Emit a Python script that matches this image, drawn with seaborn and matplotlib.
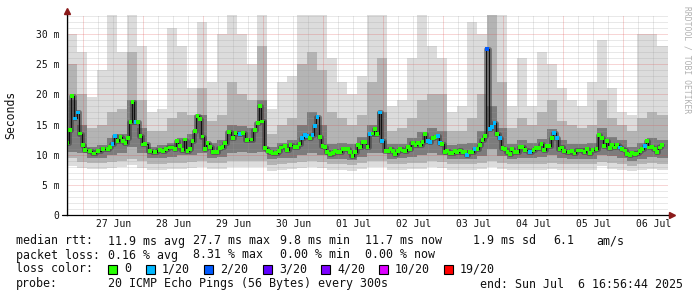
import numpy as np
import pandas as pd
import matplotlib
matplotlib.use("Agg")
import matplotlib.pyplot as plt
from matplotlib.patches import Rectangle
import seaborn as sns

# ---------------- data ----------------
# hours since chart start (26 Jun 17:30)
median_h = [0.1,1.2,2.1,3.3,4.3,5.3,6.4,7.2,9.2,10.9,12.5,14.5,16.5,17.2,18.2,19.2,20.2,21.4,22.5,23.4,
            24.5,25.4,26.2,27.6,28.4,29.4,30.5,31.3,33.1,35.1,37.1,38.5,39.5,41.1,42.2,43.1,44.0,45.1,46.2,47.2,
            48.2,49.2,50.2,51.2,52.2,53.2,54.2,55.2,56.2,57.2,58.4,60.0,61.1,62.2,63.2,64.8,66.4,67.4,69.1,70.4,
            72.0,73.8,75.1,76.3,77.2,78.1,79.3,80.4,81.5,82.5,83.7,84.8,85.7,87.1,88.1,89.4,91.0,92.1,93.0,94.1,
            95.3,96.1,97.2,98.2,99.2,100.2,101.1,102.2,103.3,104.1,105.3,106.3,107.3,108.3,109.3,110.3,111.4,112.3,113.3,114.2,
            115.3,116.3,117.3,118.3,119.3,120.2,121.1,122.2,123.1,124.1,125.1,125.9,127.4,128.5,129.4,130.3,131.3,132.3,133.3,134.3,
            135.3,136.3,137.2,138.3,139.4,140.3,141.4,142.2,143.1,144.3,145.2,146.3,147.4,148.4,149.1,150.1,151.1,152.1,153.2,154.1,
            155.2,156.1,157.2,158.2,159.2,160.0,161.0,162.0,163.2,164.2,165.2,166.2,167.2,168.0,169.2,170.1,171.0,172.1,173.2,174.2,
            175.3,176.2,177.2,178.1,179.0,180.0,181.3,182.2,183.3,185.2,186.6,187.6,188.8,189.8,190.9,191.9,193.0,193.9,194.9,195.9,
            197.0,198.1,198.9,200.6,201.9,203.0,204.2,205.6,207.0,208.0,209.1,210.2,211.8,212.8,213.9,214.9,216.0,217.1,218.1,219.1,
            220.1,221.2,222.1,223.1,224.1,225.2,226.1,227.2,228.1,229.2,230.1,231.1,232.0,232.9,234.0,235.1,235.9,237.1,238.0]
median_ms = [12.0,14.1,19.7,16.0,17.0,13.5,11.6,10.8,10.6,10.2,10.6,10.9,10.9,11.3,11.8,13.1,12.2,12.9,12.3,11.9,
             12.8,15.4,18.7,15.4,15.4,13.1,11.7,11.8,10.6,10.5,10.8,10.6,10.9,11.2,11.2,10.9,12.2,11.4,10.8,12.5,
             10.6,11.0,12.2,13.9,16.4,15.9,13.0,11.0,12.0,11.3,10.5,10.5,11.1,11.3,11.9,13.8,12.7,13.6,13.4,13.6,
             12.4,12.5,14.1,15.2,18.1,15.5,11.1,10.6,10.4,10.2,10.3,10.6,11.2,11.5,10.8,11.6,11.3,11.3,11.8,12.7,
             13.2,13.1,12.7,13.3,14.8,16.3,12.9,11.4,11.3,10.5,10.1,10.3,10.6,10.5,10.5,11.0,10.9,10.9,10.5,9.8,
             10.4,11.6,11.3,12.1,12.1,11.3,13.4,13.5,14.3,13.4,17.0,12.3,10.6,10.6,11.0,10.6,10.1,10.6,10.9,10.7,
             10.6,11.3,11.0,12.0,11.6,12.0,11.6,12.1,13.4,12.2,12.1,12.8,12.9,13.1,12.0,11.8,10.5,10.6,10.3,10.3,
             10.6,10.5,10.7,10.5,10.5,10.0,10.5,10.4,10.9,10.9,11.6,12.4,13.1,27.5,14.2,14.6,15.3,13.4,12.7,11.1,
             10.9,10.5,10.1,10.9,10.5,10.5,11.3,11.3,10.8,10.4,10.8,11.1,11.1,11.8,10.8,11.4,11.4,12.7,13.6,12.7,
             10.9,11.2,10.6,10.5,10.6,10.2,10.7,10.7,10.4,10.9,10.3,10.8,10.9,13.3,12.7,11.5,12.2,11.1,11.6,11.2,
             11.6,11.2,11.0,10.7,10.1,9.9,10.3,10.1,10.2,10.6,11.0,11.4,12.2,11.2,11.3,10.9,10.5,11.2,11.6]
loss1_hours = [3.3,4.3,18.2,19.2,27.6,69.1,94.1,95.3,96.1,98.2,99.2,100.2,121.1,125.1,125.9,144.3,145.2,
               148.4,149.1,160.0,163.2,169.2,170.1,171.0,173.2,185.2,194.9,195.9,221.2,231.1]
loss2_hours = [168.0]

# smoke (ping distribution), 4-hour columns starting at hour 0
smoke_h = list(range(0, 240, 4))
smoke_max = [30,27,19.5,24,33.2,27,33.2,28,17,17.5,31,28,21,32,22,30,33.2,30,25,33.2,
             17.5,22,23,33.2,33.2,33.2,26,22,20,23,33.2,33.2,18,19,26,33.2,28,26,17,18,
             32,30,33.2,33.2,18,26,18,27,25,21,19,18,22,29,21,17,16.5,30,30,28]
smoke_p90 = [25,20,14.5,15,17,17.5,27,19,14,14,16,17,16.5,21,15.5,16.5,22,20,19,28,
             13.5,15,16,25,27,24,17,16,15,16.5,22,26,14,14.5,16,19,20,20,14,14,
             16,20,33.2,22,14.5,16,15,17,19,15.5,15,14.5,15,19,16,15,14,16,17,16.5]
smoke_q3 = [19,15,11.3,11.6,12.8,13.5,19,14.5,11.3,11.6,12,12.8,13.5,16.5,12,12.5,15,14.8,14.5,19,
            11.2,12,12.4,15,17,15,11.8,12,11.7,13,15,17,11.8,11.8,12.8,13.8,14.5,14,11.6,11.8,
            12,14,18,14.5,11.8,12.5,12,12.6,14.2,12.5,11.8,11.8,12,14.5,13,12.4,11.3,12,12.8,12.5]
smoke_q1 = [10.5,10.3,9.4,9.5,10,10.3,11.3,10.3,9.4,9.4,9.6,9.9,10,10.3,9.5,9.6,10.3,10.5,10.3,10.5,
            9.2,9.4,9.5,10,10.3,10,9.2,9.3,9.1,9.6,10.2,10.3,9.3,9.4,9.6,9.9,10.2,10,9.2,9.3,
            9.3,9.8,11,9.7,9.3,9.5,9.4,9.6,10,9.5,9.2,9.2,9.3,10,9.7,9.5,9,9.3,9.6,9.5]
smoke_p10 = [9.5,8.8,8.6,8.6,8.8,8.9,9.3,8.9,8.5,8.5,8.6,8.7,8.8,8.9,8.6,8.6,8.9,9,8.9,9,
             8.3,8.5,8.6,8.8,8.9,8.8,8.4,8.4,8.3,8.6,8.9,8.9,8.4,8.5,8.6,8.7,8.9,8.8,8.4,8.4,
             8.4,8.7,9,8.7,8.4,8.5,8.4,8.5,8.7,8.5,8.4,8.4,8.4,8.8,8.6,8.5,8.2,8.4,8.6,8.5]
smoke_min = [8.2,7.8,7.6,7.6,7.8,7.9,8.3,7.8,7.5,7.5,7.6,7.7,7.8,7.9,7.6,7.6,7.9,8,7.9,8,
             7.3,7.5,7.6,7.8,7.9,7.8,7.4,7.4,7.3,7.6,7.9,7.9,7.4,7.5,7.6,7.7,7.9,7.8,7.4,7.4,
             7.4,7.7,8,7.7,7.4,7.5,7.4,7.5,7.7,7.5,7.4,7.4,7.4,8.2,7.6,7.5,7.3,7.4,7.6,7.5]

day_labels = ["27 Jun", "28 Jun", "29 Jun", "30 Jun", "01 Jul", "02 Jul", "03 Jul", "04 Jul", "05 Jul", "06 Jul"]
first_midnight_h = 6.5      # 27 Jun 00:00 in chart hours
x_end_h = 240.4
y_top = 33.15
ytick_vals = [0, 5, 10, 15, 20, 25, 30]
ytick_labels = ["0", "5 m", "10 m", "15 m", "20 m", "25 m", "30 m"]

loss_colors = {0: "#26ff00", 1: "#00b8ff", 2: "#0059ff", 3: "#5e00ff", 4: "#7e00ff", 10: "#dd00ff", 19: "#ff0000"}
legend_loss = [(0, "0"), (1, "1/20"), (2, "2/20"), (3, "3/20"), (4, "4/20"), (10, "10/20"), (19, "19/20")]

# ---------------- figure ----------------
sns.set_style("white")
plt.rcParams['font.family'] = ['DejaVu Sans Mono', 'DejaVu Sans']
W, H = 697, 297
fig = plt.figure(figsize=(W / 100, H / 100), dpi=100)
ax = fig.add_axes([67 / W, (H - 215) / H, 601 / W, 200 / H])
ax.set_xlim(0, x_end_h)
ax.set_ylim(0, y_top)

# smoke layers
xs = np.append(np.array(smoke_h, float), x_end_h)
def ext(a):
    a = np.array(a, float)
    return np.append(a, a[-1])
ax.fill_between(xs, ext(smoke_min), ext(smoke_max), step="post", color="#dcdcdc", lw=0, zorder=1)
ax.fill_between(xs, ext(smoke_p10), ext(smoke_p90), step="post", color="#b4b4b4", lw=0, zorder=2)
ax.fill_between(xs, ext(smoke_q1), ext(smoke_q3), step="post", color="#7c7c7c", lw=0, zorder=3)

# grid
px = 0.72
for v in np.arange(1, 34):
    if v % 5 == 0:
        ax.axhline(v, color="#e04848", alpha=0.45, lw=px, ls=(0, (1, 1)), zorder=4)
    else:
        ax.axhline(v, color="#9a9a9a", alpha=0.45, lw=px, ls=(0, (1, 1)), zorder=4)
for h in np.arange(0.5, x_end_h, 6):
    if abs(((h - first_midnight_h) / 24) - round((h - first_midnight_h) / 24)) < 1e-6:
        ax.axvline(h, color="#e04848", alpha=0.45, lw=px, ls=(0, (1, 1)), zorder=4)
    else:
        ax.axvline(h, color="#9a9a9a", alpha=0.45, lw=px, ls=(0, (1, 1)), zorder=4)

# median
df = pd.DataFrame({"hour": median_h, "ms": median_ms})
df["loss"] = 0
df.loc[df["hour"].isin(loss1_hours), "loss"] = 1
df.loc[df["hour"].isin(loss2_hours), "loss"] = 2
sns.lineplot(data=df, x="hour", y="ms", ax=ax, estimator=None, sort=False,
             drawstyle="steps-mid", color="#3c3c3c", lw=3.5, alpha=0.55, zorder=5)
sns.lineplot(data=df, x="hour", y="ms", ax=ax, estimator=None, sort=False,
             drawstyle="steps-mid", color="#111111", lw=0.8, zorder=6)
sns.scatterplot(data=df, x="hour", y="ms", hue="loss", palette={k: loss_colors[k] for k in df["loss"].unique()},
                marker="s", s=7.5, linewidth=0, legend=False, ax=ax, zorder=7)

# axes styling
for s in ["top", "right"]:
    ax.spines[s].set_visible(False)
for s in ["left", "bottom"]:
    ax.spines[s].set_color("black")
    ax.spines[s].set_linewidth(0.9)
    ax.spines[s].set_zorder(8)
ax.set_xlabel("")
ax.set_ylabel("")
ax.set_yticks(ytick_vals)
ax.set_yticklabels(ytick_labels)
ax.set_xticks([first_midnight_h + 12 + 24 * i for i in range(len(day_labels))])
ax.set_xticklabels(day_labels)
ax.tick_params(axis="both", length=0, labelsize=7, colors="#111111")
ax.tick_params(axis="y", pad=5.5)
ax.tick_params(axis="x", pad=3)

# axis extensions and arrows
ax.plot([0, 0], [1.0, 1.025], transform=ax.transAxes, color="black", lw=0.9, clip_on=False, zorder=8)
ax.plot([0], [1.022], transform=ax.transAxes, marker="^", ms=4.5, color="#8b1a1a", clip_on=False, zorder=9)
ax.plot([-0.008, 0], [0, 0], transform=ax.transAxes, color="black", lw=0.9, clip_on=False, zorder=8)
ax.plot([1.0, 1.004], [0, 0], transform=ax.transAxes, color="black", lw=0.9, clip_on=False, zorder=8)
ax.plot([1.006], [0], transform=ax.transAxes, marker=">", ms=4.5, color="#8b1a1a", clip_on=False, zorder=9)

# texts
fig.text(11 / W, 1 - 115 / H, "Seconds", rotation=90, ha="center", va="center", fontsize=8.3, color="#111111")
fig.text(687 / W, 1 - 60 / H, "RRDTOOL / TOBI OETIKER", rotation=270, ha="center", va="center",
         fontsize=5.8, color="#b0b0b0")

fs = 8.35
def t(x, y, s):
    fig.text(x / W, 1 - y / H, s, ha="left", va="center", fontsize=fs, color="#111111")

t(16, 241, "median rtt:")
t(108, 241, "11.9 ms avg")
t(193, 241, "27.7 ms max")
t(280, 241, "9.8 ms min")
t(365, 241, "11.7 ms now")
t(473, 241, "1.9 ms sd")
t(553, 241, "6.1")
t(596, 241, "am/s")

t(16, 255, "packet loss:")
t(108, 255, "0.16 % avg")
t(193, 255, "8.31 % max")
t(280, 255, "0.00 % min")
t(365, 255, "0.00 % now")

t(16, 269, "loss color:")
box_x = [108, 146, 204, 263, 321, 379, 444]
for bx, (k, lab) in zip(box_x, legend_loss):
    fig.patches.append(Rectangle((bx / W, 1 - 273.5 / H), 9 / W, 9 / H, transform=fig.transFigure,
                                 facecolor=loss_colors[k], edgecolor="black", lw=0.8))
    t(bx + 16, 269, lab)

t(16, 284, "probe:")
t(108, 284, "20 ICMP Echo Pings (56 Bytes) every 300s")
t(480, 284, "end: Sun Jul  6 16:56:44 2025")

fig.savefig("out.png", dpi=100, facecolor="white")
